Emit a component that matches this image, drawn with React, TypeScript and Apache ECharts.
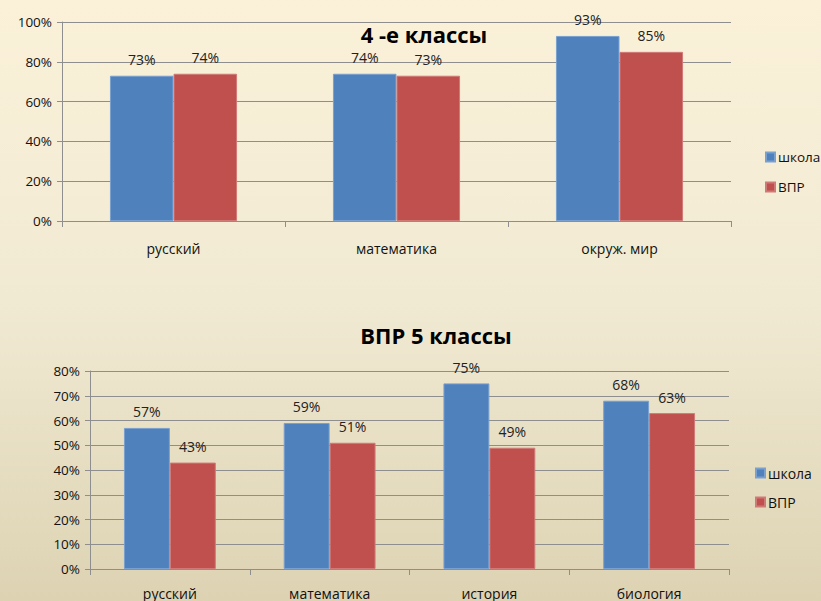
import React, { useEffect, useRef } from "react";
import * as echarts from "echarts";

const seriesNames = ["школа", "ВПР"];

const cats4 = ["русский", "математика", "окруж. мир"];
const school4 = [73, 74, 93];
const vpr4 = [74, 73, 85];

const cats5 = ["русский", "математика", "история", "биология"];
const school5 = [57, 59, 75, 68];
const vpr5 = [43, 51, 49, 63];

const FONT = "Open Sans";
const BLUE = "#4F81BD";
const RED = "#C0504D";
const GRID = "#8e8e8e";

export default function App() {
  const ref = useRef<HTMLDivElement>(null);
  useEffect(() => {
    if (!ref.current) return;
    const chart = echarts.init(ref.current, undefined, { renderer: "svg" });
    const label = {
      show: true,
      position: "top" as const,
      distance: 9,
      formatter: "{c}%",
      fontFamily: FONT,
      fontSize: 14,
      color: "#222",
    };
    const catAxis = (gridIndex: number, data: string[], margin: number) => ({
      type: "category" as const,
      gridIndex,
      data,
      axisLine: { lineStyle: { color: GRID } },
      axisTick: { show: true, length: 6, lineStyle: { color: GRID } },
      axisLabel: { margin, fontFamily: FONT, fontSize: 14, color: "#111" },
    });
    const valAxis = (gridIndex: number, max: number, interval: number) => ({
      type: "value" as const,
      gridIndex,
      min: 0,
      max,
      interval,
      axisLine: { show: true, lineStyle: { color: GRID } },
      axisTick: { show: true, length: 5, lineStyle: { color: GRID } },
      axisLabel: { margin: 10, formatter: "{value}%", fontFamily: FONT, fontSize: 13.5, color: "#111" },
      splitLine: { lineStyle: { color: GRID, width: 1 } },
    });
    const bar = (name: string, data: number[], idx: number, color: string, barCat: string) => ({
      type: "bar" as const,
      name,
      data,
      xAxisIndex: idx,
      yAxisIndex: idx,
      barGap: "0%",
      barCategoryGap: barCat,
      itemStyle: { color, borderColor: color === BLUE ? "#7aa0d0" : "#d07a78", borderWidth: 1 },
      label,
    });
    const legend = (top: number, left: number, gap: number, size: number) => ({
      orient: "vertical" as const,
      left,
      top,
      padding: 0,
      data: seriesNames,
      icon: "rect",
      itemWidth: 9,
      itemHeight: 9,
      itemGap: gap,
      textStyle: { fontFamily: FONT, fontSize: size, color: "#111", padding: [0, 0, 0, -2] },
      selectedMode: false,
    });
    chart.setOption({
      animation: false,
      backgroundColor: new echarts.graphic.LinearGradient(0, 0, 0, 1, [
        { offset: 0, color: "#FBF1D9" },
        { offset: 0.5, color: "#F1EAD3" },
        { offset: 1, color: "#DDD3B3" },
      ]),
      title: [
        {
          text: "4 -е классы",
          left: 419,
          top: 17,
          textAlign: "center",
          textStyle: { fontFamily: FONT, fontWeight: "bold", fontSize: 22, lineHeight: 24, color: "#000" },
        },
        {
          text: "ВПР 5 классы",
          left: 431,
          top: 318,
          textAlign: "center",
          textStyle: { fontFamily: FONT, fontWeight: "bold", fontSize: 22, lineHeight: 24, color: "#000" },
        },
      ],
      legend: [legend(150, 765, 16, 13.5), legend(466, 755, 15, 14)],
      grid: [
        { left: 62, top: 22, width: 669, height: 199 },
        { left: 90, top: 371, width: 639, height: 198 },
      ],
      xAxis: [catAxis(0, cats4, 20), catAxis(1, cats5, 17)],
      yAxis: [valAxis(0, 100, 20), valAxis(1, 80, 10)],
      series: [
        bar(seriesNames[0], school4, 0, BLUE, "43%"),
        bar(seriesNames[1], vpr4, 0, RED, "43%"),
        bar(seriesNames[0], school5, 1, BLUE, "42.5%"),
        bar(seriesNames[1], vpr5, 1, RED, "42.5%"),
      ],
    });
    return () => chart.dispose();
  }, []);
  return (
    <div
      ref={ref}
      style={{ position: "fixed", left: 0, top: 0, width: 821, height: 601 }}
    />
  );
}
